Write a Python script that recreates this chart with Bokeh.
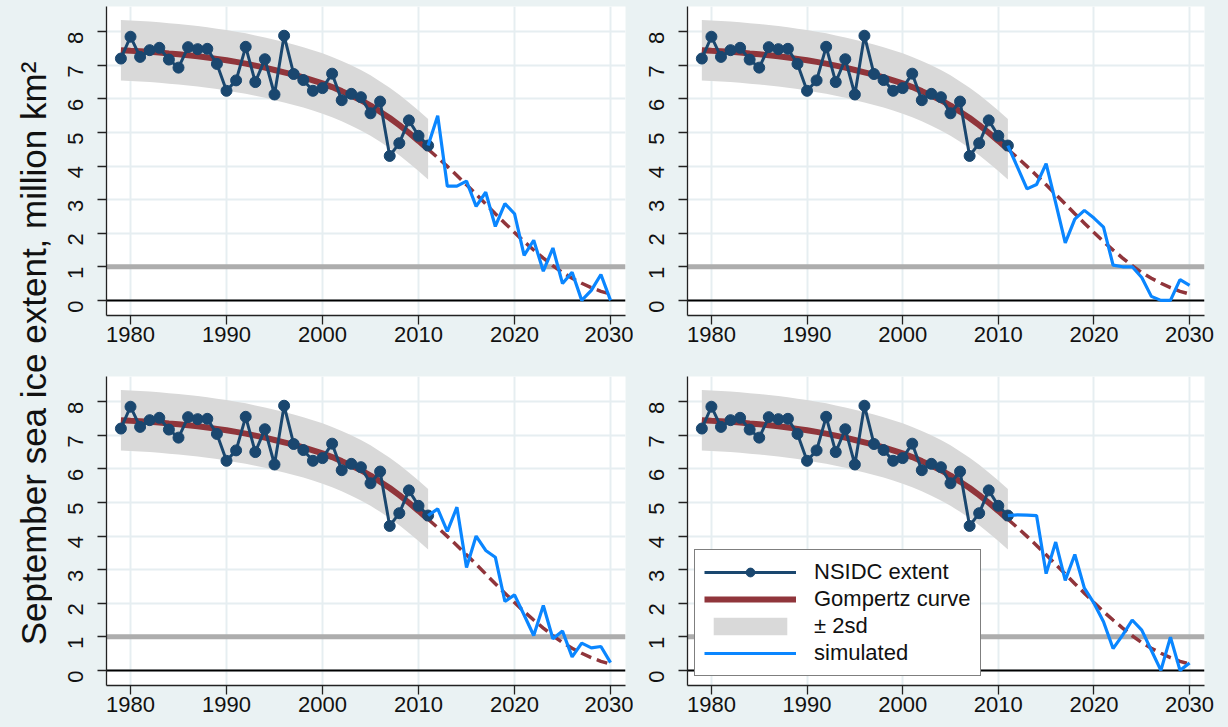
import math
from bokeh.plotting import figure
from bokeh.layouts import row, column
from bokeh.models import Range1d, FixedTicker, Span, Legend, LegendItem, Label
from bokeh.embed import file_html
from bokeh.resources import INLINE

# ---------------- data ----------------
YEARS_OBS = list(range(1979, 2012))
NSIDC = [7.20, 7.85, 7.25, 7.45, 7.52, 7.17, 6.93, 7.54, 7.48, 7.49,
         7.04, 6.24, 6.55, 7.55, 6.50, 7.18, 6.13, 7.88, 6.74, 6.56,
         6.24, 6.32, 6.75, 5.96, 6.15, 6.05, 5.57, 5.92, 4.30, 4.68,
         5.36, 4.90, 4.61]

YEARS_FIT = list(range(1979, 2031))
GOMPERTZ = [7.45, 7.43, 7.42, 7.40, 7.38, 7.35, 7.33, 7.30, 7.27, 7.23,
            7.19, 7.15, 7.10, 7.05, 6.99, 6.93, 6.86, 6.79, 6.72, 6.64,
            6.55, 6.46, 6.35, 6.23, 6.10, 5.96, 5.80, 5.62, 5.43, 5.22,
            4.99, 4.75, 4.50, 4.25, 3.99, 3.72, 3.44, 3.16, 2.87, 2.58,
            2.30, 2.02, 1.75, 1.50, 1.26, 1.03, 0.83, 0.66, 0.51, 0.38,
            0.27, 0.19]
TWO_SD = 0.9
FIT_END = 2011

YEARS_SIM = list(range(2011, 2031))
SIM_1 = [4.61, 5.50, 3.40, 3.40, 3.55, 2.80, 3.22, 2.20, 2.88, 2.58,
         1.34, 1.79, 0.87, 1.56, 0.50, 0.84, 0.00, 0.30, 0.77, 0.00]
SIM_2 = [4.61, 3.97, 3.32, 3.45, 4.07, 2.90, 1.71, 2.42, 2.68, 2.45,
         2.18, 1.05, 1.00, 1.00, 0.68, 0.12, 0.00, 0.00, 0.62, 0.45]
SIM_3 = [4.61, 4.81, 4.14, 4.86, 3.06, 4.00, 3.57, 3.37, 2.05, 2.25,
         1.65, 1.04, 1.93, 0.94, 1.17, 0.40, 0.81, 0.67, 0.71, 0.23]
SIM_4 = [4.61, 4.63, 4.62, 4.61, 2.88, 3.82, 2.68, 3.45, 2.45, 2.00,
         1.45, 0.65, 1.05, 1.50, 1.20, 0.60, 0.00, 0.99, 0.00, 0.22]

X_TICKS = [1980, 1990, 2000, 2010, 2020, 2030]
Y_TICKS = [0, 1, 2, 3, 4, 5, 6, 7, 8]
THRESHOLD = 1.0
Y_LABEL = "September sea ice extent, million km\u00b2"
LEGEND_LABELS = ["NSIDC extent", "Gompertz curve", "\u00b1 2sd", "simulated"]

# ---------------- style ----------------
BG = "#EAF2F3"
GRID = "#E6EEF1"
NAVY = "#1A476F"
MAROON = "#90353B"
SIMBLUE = "#0A86FF"
BAND = "#D9D9D9"
FONT = "Liberation Sans"

fit_solid_x = [y for y in YEARS_FIT if y <= FIT_END]
fit_solid_y = [g for y, g in zip(YEARS_FIT, GOMPERTZ) if y <= FIT_END]
fit_dash_x = [y for y in YEARS_FIT if y >= FIT_END]
fit_dash_y = [g for y, g in zip(YEARS_FIT, GOMPERTZ) if y >= FIT_END]
band_up = [g + TWO_SD for g in fit_solid_y]
band_lo = [g - TWO_SD for g in fit_solid_y]


def make_panel(sim, frame_w, frame_h, bl, br, bt, bb, with_legend=False):
    p = figure(frame_width=frame_w, frame_height=frame_h,
               min_border_left=bl, min_border_right=br,
               min_border_top=bt, min_border_bottom=bb,
               x_range=Range1d(1977.5, 2031.56), y_range=Range1d(-0.45, 8.75),
               toolbar_location=None, output_backend="svg")
    p.background_fill_color = "white"
    p.border_fill_color = BG
    p.outline_line_color = None

    p.xaxis.ticker = FixedTicker(ticks=X_TICKS)
    p.yaxis.ticker = FixedTicker(ticks=Y_TICKS)
    for ax in (p.xaxis, p.yaxis):
        ax.axis_line_color = "#222222"
        ax.axis_line_width = 1.3
        ax.major_tick_line_color = "#222222"
        ax.major_tick_line_width = 1.3
        ax.major_tick_out = 9
        ax.major_tick_in = 0
        ax.minor_tick_out = 0
        ax.minor_tick_in = 0
        ax.major_label_text_font = FONT
        ax.major_label_text_font_size = "22px"
        ax.major_label_text_color = "#111111"
    p.xaxis.major_label_standoff = 2
    p.yaxis.major_label_standoff = 22
    p.yaxis.major_label_orientation = math.pi / 2

    p.xgrid.grid_line_color = GRID
    p.ygrid.grid_line_color = GRID
    p.xgrid.grid_line_width = 2
    p.ygrid.grid_line_width = 2

    p.add_layout(Span(location=THRESHOLD, dimension="width", line_color="#ADADAD",
                      line_width=5, level="underlay"))
    p.add_layout(Span(location=0, dimension="width", line_color="#000000",
                      line_width=2, level="underlay"))

    r_band = p.varea(x=fit_solid_x, y1=band_lo, y2=band_up, fill_color=BAND)
    r_fit = p.line(fit_solid_x, fit_solid_y, line_color=MAROON, line_width=6)
    p.line(fit_dash_x, fit_dash_y, line_color=MAROON, line_width=3.5,
           line_dash="11 6")
    r_obs_l = p.line(YEARS_OBS, NSIDC, line_color=NAVY, line_width=3)
    r_obs_m = p.scatter(YEARS_OBS, NSIDC, marker="circle", size=11,
                        fill_color=NAVY, line_color=NAVY)
    r_sim = p.line(YEARS_SIM, sim, line_color=SIMBLUE, line_width=3.2)

    if with_legend:
        legend = Legend(items=[
            LegendItem(label=LEGEND_LABELS[0], renderers=[r_obs_l, r_obs_m]),
            LegendItem(label=LEGEND_LABELS[1], renderers=[r_fit]),
            LegendItem(label=LEGEND_LABELS[2], renderers=[r_band]),
            LegendItem(label=LEGEND_LABELS[3], renderers=[r_sim]),
        ], location=(7, 9))
        legend.label_text_font = FONT
        legend.label_text_font_size = "22px"
        legend.label_text_color = "#111111"
        legend.glyph_width = 92
        legend.glyph_height = 22
        legend.label_height = 22
        legend.label_standoff = 18
        legend.spacing = 1
        legend.padding = 9
        legend.margin = 0
        legend.border_line_color = "#000000"
        legend.border_line_width = 1
        legend.background_fill_color = "white"
        legend.background_fill_alpha = 1.0
        p.add_layout(legend)
    return p


# Bokeh's page template has no body margin: use the full 1228 x 727 window
p1 = make_panel(SIM_1, 519, 309, 54, 8, 6, 44)
p2 = make_panel(SIM_2, 517, 309, 54, 24, 6, 44)
p3 = make_panel(SIM_3, 519, 309, 54, 8, 17, 42)
p4 = make_panel(SIM_4, 517, 309, 54, 24, 17, 42, with_legend=True)

lab = figure(frame_width=52, frame_height=727, x_range=Range1d(0, 52),
             y_range=Range1d(0, 727), min_border=0,
             toolbar_location=None, output_backend="svg")
lab.axis.visible = False
lab.grid.visible = False
lab.outline_line_color = None
lab.background_fill_color = BG
lab.border_fill_color = BG
lab.add_layout(Label(x=33, y=374, text=Y_LABEL, angle=math.pi / 2,
                     text_align="center", text_baseline="middle",
                     text_font=FONT, text_font_size="35px", text_color="#111111"))

bgs = {"background-color": BG}
layout = row(lab,
             column(row(p1, p2, styles=bgs), row(p3, p4, styles=bgs), styles=bgs),
             styles=bgs)

open("out.html", "w").write(file_html(layout, INLINE))
